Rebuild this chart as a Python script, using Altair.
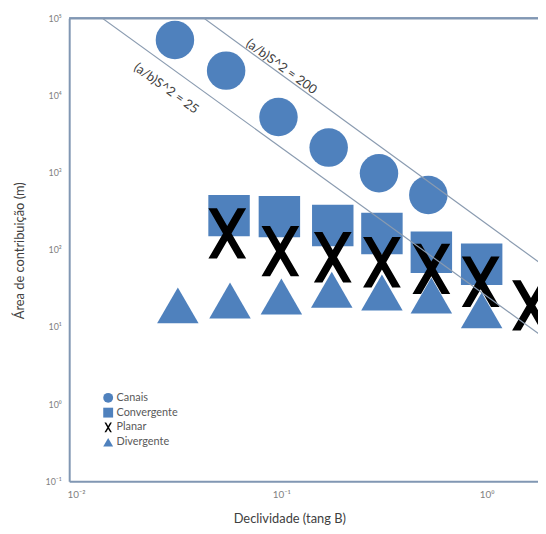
import altair as alt
import pandas as pd

# ---- data ----
series_names = ["Canais", "Convergente", "Planar", "Divergente"]

canais_x = [0.0303, 0.0538, 0.0968, 0.170, 0.299, 0.520]
canais_y = [52400, 21000, 5260, 2110, 982, 514]

conv_x = [0.0556, 0.0978, 0.178, 0.309, 0.538, 0.946]
conv_y = [277, 269, 207, 163, 93, 65]

planar_x = [0.0545, 0.0989, 0.178, 0.309, 0.538, 0.936, 1.645]
planar_y = [163, 96, 80, 69, 56.5, 38.5, 19.0]

div_x = [0.0313, 0.0562, 0.100, 0.176, 0.309, 0.538, 0.946]
div_y = [19.0, 22.0, 24.8, 30.4, 27.9, 25.5, 16.4]

line_names = ["(a/b)S^2 = 200", "(a/b)S^2 = 25"]
line200_x = [0.042, 1.80]
line200_y = [100000, 69]
line25_x = [0.01343, 1.80]
line25_y = [100000, 8.1]
label_x = [0.100, 0.0275]
label_y = [23600, 12300]

x_tick_values = [0.01, 0.1, 1]
x_tick_labels = ["10⁻²", "10⁻¹", "10⁰"]
y_tick_values = [0.1, 1, 10, 100, 1000, 10000, 100000]
y_tick_labels = ["10⁻¹", "10⁰", "10¹", "10²", "10³", "10⁴", "10⁵"]

# ---- styling ----
BLUE = "#4f81bd"
FRAME = "#8197b3"
LINE = "#8a9bb0"
FONT = "Lato"
X_PATH = ("M-0.75,-1L-0.41,-1L0,-0.293L0.41,-1L0.75,-1L0.17,0"
          "L0.75,1L0.41,1L0,0.293L-0.41,1L-0.75,1L-0.17,0Z")
marker_area = {"Canais": 1521, "Convergente": 1764, "Planar": 2601, "Divergente": 1764}

rows = []
draw_order = ["Canais", "Convergente", "Divergente", "Planar"]
src = {
    "Canais": (canais_x, canais_y),
    "Convergente": (conv_x, conv_y),
    "Planar": (planar_x, planar_y),
    "Divergente": (div_x, div_y),
}
for i, s in enumerate(draw_order):
    xs, ys = src[s]
    for x, y in zip(xs, ys):
        rows.append({"serie": s, "x": x, "y": y, "o": i, "sz": marker_area[s]})
pts = pd.DataFrame(rows)

lines = pd.DataFrame(
    [{"linha": line_names[0], "x": x, "y": y} for x, y in zip(line200_x, line200_y)]
    + [{"linha": line_names[1], "x": x, "y": y} for x, y in zip(line25_x, line25_y)]
)
labels = pd.DataFrame({"txt": line_names, "x": label_x, "y": label_y})


def label_expr(values, texts):
    expr = "''"
    for v, t in zip(values, texts):
        expr = f"abs(datum.value - {v}) < {v} * 0.01 ? '{t}' : " + expr
    return expr


xscale = alt.Scale(type="log", domain=[0.00925, 1.78], nice=False)
yscale = alt.Scale(type="log", domain=[0.1, 100000], nice=False)

x_enc = alt.X(
    "x:Q", scale=xscale,
    axis=alt.Axis(
        values=x_tick_values, labelExpr=label_expr(x_tick_values, x_tick_labels),
        title="Declividade (tang B)", grid=False, ticks=False,
        domainColor=FRAME, domainWidth=2, labelColor="#7f7f7f", labelFontSize=10,
        labelFont=FONT, labelPadding=9, titleFont=FONT, titleFontSize=13,
        titleFontWeight="normal", titleColor="#404040",
        titleX=223, titleY=38, titleBaseline="middle",
    ),
)
y_enc = alt.Y(
    "y:Q", scale=yscale,
    axis=alt.Axis(
        values=y_tick_values, labelExpr=label_expr(y_tick_values, y_tick_labels),
        title="Área de contribuição (m)", grid=False, ticks=False,
        domainColor=FRAME, domainWidth=2, labelColor="#7f7f7f", labelFontSize=9,
        labelFont=FONT, labelPadding=8, titleFont=FONT, titleFontSize=13,
        titleFontWeight="normal", titleColor="#404040",
        titleX=-50, titleY=235, titleBaseline="middle",
    ),
)

points = alt.Chart(pts).mark_point(filled=True, opacity=1, strokeWidth=0).encode(
    x=x_enc,
    y=y_enc,
    color=alt.Color("serie:N", scale=alt.Scale(domain=series_names,
                                               range=[BLUE, BLUE, "#000000", BLUE]),
                    legend=alt.Legend(title=None, orient="none", legendX=34, legendY=379,
                                      labelFont=FONT, labelFontSize=11, labelColor="#595959",
                                      symbolSize=100, rowPadding=3, symbolStrokeWidth=0,
                                      labelOffset=3)),
    shape=alt.Shape("serie:N", scale=alt.Scale(domain=series_names,
                                               range=["circle", "square", X_PATH, "triangle-up"])),
    size=alt.Size("sz:Q", scale=None, legend=None),
    order=alt.Order("o:Q"),
)

guide_lines = alt.Chart(lines).mark_line(color=LINE, strokeWidth=1.2, clip=True).encode(
    x=x_enc, y=y_enc, detail="linha:N"
)

guide_text = alt.Chart(labels).mark_text(
    angle=36, align="center", baseline="middle", font=FONT, fontSize=13, color="#404040"
).encode(x=x_enc, y=y_enc, text="txt:N")

top_frame = alt.Chart(labels).mark_rule(color=FRAME, strokeWidth=2).encode(
    x=alt.value(0), x2=alt.value(475), y=alt.value(0)
)

chart = alt.layer(top_frame, points, guide_lines, guide_text).properties(
    width=475, height=469,
    padding={"left": 62, "top": 7, "right": 0, "bottom": 50},
    autosize=alt.AutoSizeParams(type="none"),
).configure_view(stroke=None).configure(background="white")

chart.save("out.html", embed_options={"renderer": "svg", "actions": False})
